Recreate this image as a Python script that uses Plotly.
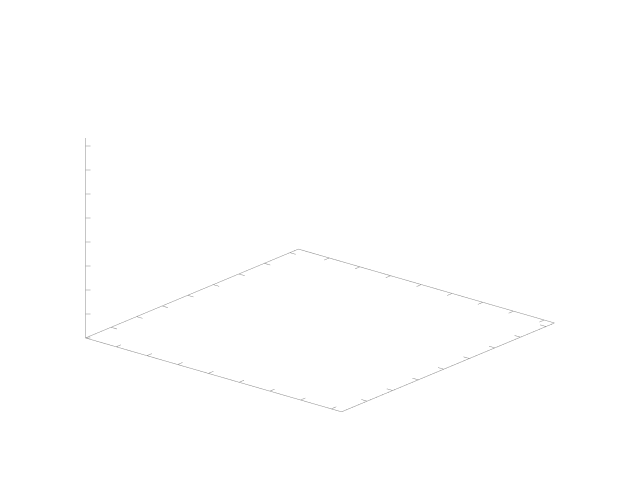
import numpy as np
import plotly.graph_objects as go

# axis ranges and tick values (empty 3D plot: only the frame is drawn)
x_range = [0, 25]
y_range = [0, 25]
z_range = [0, 25]
x_ticks = [0, 3, 6, 9, 12, 15, 18, 21, 24]
y_ticks = [0, 3, 6, 9, 12, 15, 18, 21, 24]
z_ticks = [0, 3, 6, 9, 12, 15, 18, 21, 24]

# view geometry (style)
elev = np.radians(20.3)
azim = np.radians(50.25)
dist = 2.0
k = 1.445
aspect = dict(x=1 * k, y=1 * k, z=0.64 * k)
col = "#8a8a8a"

x0, x1 = x_range
y0, y1 = y_range
z0, z1 = z_range
dxr = x1 - x0
dyr = y1 - y0
tl = 0.023  # tick length as fraction of range

xs, ys, zs = [], [], []

def seg(p, q):
    xs.extend([p[0], q[0], None])
    ys.extend([p[1], q[1], None])
    zs.extend([p[2], q[2], None])

# base rectangle
bx = [x0, x1, x1, x0, x0]
by = [y0, y0, y1, y1, y0]
xs.extend(bx + [None]); ys.extend(by + [None]); zs.extend([z0] * 5 + [None])
# z axis at left corner
seg((x0, y0, z0), (x0, y0, z1))
# x ticks (mirrored, pointing inward)
for t in x_ticks:
    seg((t, y0, z0), (t, y0 + tl * dyr, z0))
    seg((t, y1, z0), (t, y1 - tl * dyr, z0))
# y ticks
for t in y_ticks:
    seg((x0, t, z0), (x0 + tl * dxr, t, z0))
    seg((x1, t, z0), (x1 - tl * dxr, t, z0))
# z ticks pointing to screen right
zt_px = 5.0
zx = zt_px * np.sin(azim) / 333.0 * dxr
zy = zt_px * np.cos(azim) / 333.0 * dyr
for t in z_ticks:
    seg((x0, y0, t), (x0 + zx, y0 + zy, t))

fig = go.Figure(go.Scatter3d(x=xs, y=ys, z=zs, mode="lines",
                             line=dict(color=col, width=1),
                             hoverinfo="skip", showlegend=False,
                             connectgaps=False))

hidden = dict(visible=False, showgrid=False, showbackground=False,
              zeroline=False, showticklabels=False, showspikes=False, title="")
eye = dict(x=dist * np.cos(elev) * np.cos(azim),
           y=-dist * np.cos(elev) * np.sin(azim),
           z=dist * np.sin(elev))
fig.update_layout(
    width=640, height=480,
    margin=dict(l=0, r=0, t=0, b=0),
    paper_bgcolor="white",
    scene=dict(
        domain=dict(x=[0, 1], y=[0.04, 1]),
        xaxis=dict(hidden, range=x_range),
        yaxis=dict(hidden, range=y_range),
        zaxis=dict(hidden, range=z_range),
        aspectmode="manual",
        aspectratio=aspect,
        camera=dict(eye=eye, up=dict(x=0, y=0, z=1), center=dict(x=0, y=0, z=0),
                    projection=dict(type="orthographic")),
        bgcolor="white",
    ),
)
fig.write_html("out.html", config={"displayModeBar": False})
